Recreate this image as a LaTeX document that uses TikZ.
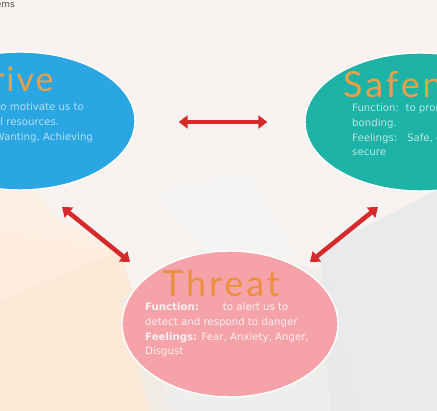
\documentclass[tikz,border=0pt]{standalone}
\usepackage{fontspec}
\setmainfont{DejaVu Sans}
\newfontfamily\ttlfont{Lato}
\usepackage{xcolor}
\usetikzlibrary{arrows.meta, shapes.geometric, positioning, calc}
\definecolor{drivec}{HTML}{2AA6E2}
\definecolor{safec}{HTML}{1DB3A6}
\definecolor{threatc}{HTML}{F5A3A8}
\definecolor{ttlc}{HTML}{E9A048}
\definecolor{arrc}{HTML}{D62A2A}
\definecolor{bgc}{HTML}{F8F3F1}
\tikzset{
  blob/.style={ellipse, draw=white, line width=1.4pt, inner sep=0pt,
               minimum width=230pt, minimum height=138pt},
  ttl/.style={font=\ttlfont\fontsize{34}{34}\selectfont\addfontfeature{LetterSpace=6},
              text=ttlc, inner sep=0pt},
  body/.style={font=\fontsize{10.2}{14.6}\selectfont, align=left, inner sep=0pt},
  arc/.style={{Triangle[width=13pt,length=9pt]}-{Triangle[width=13pt,length=9pt]},
              line width=4.5pt, arrc}
}
\begin{document}
\begin{tikzpicture}[x=1pt, y=-1pt]
    \clip (0,0) rectangle (437,411);
    % background
    \fill[bgc] (0,0) rectangle (437,411);
    \fill[orange!22, opacity=0.6] (0,230) -- (120,250) -- (170,411) -- (0,411) -- cycle;
    \fill[orange!12, opacity=0.7] (0,150) -- (60,220) -- (120,250) -- (0,300) -- cycle;
    \fill[gray!15, opacity=0.7] (120,300) -- (200,250) -- (330,270) -- (360,411) -- (150,411) -- cycle;
    \fill[cyan!12!gray!22, opacity=0.7] (320,250) -- (437,190) -- (437,411) -- (330,411) -- cycle;
    \fill[gray!8, opacity=0.6] (150,190) -- (250,170) -- (300,260) -- (200,250) -- cycle;
    \node[font=\fontsize{9}{9}\selectfont, text=black!70, anchor=east, inner sep=0pt] (hd) at (15,5) {Systems};

    \node[blob, fill=drivec] (drive) at (20,121) {};
    \node[blob, fill=safec] (safe) at (420,122) {};
    \node[blob, fill=threatc, minimum width=216pt, minimum height=146pt] (threat) at (230,324) {};

    \node[ttl, anchor=base] (drivet) at (9,92) {Drive};
    \node[body, text=drivec!35!white, anchor=north west] (driveb) at (-55,103)
      {Function: to motivate us to\\seek useful resources.\\Feelings: Wanting, Achieving};

    \node[ttl, font=\ttlfont\fontsize{36}{36}\selectfont\addfontfeature{LetterSpace=8},
          anchor=base west] (safet) at (343,98) {Safeness};
    \node[body, text=safec!30!white, anchor=north west] (safeb) at (352,104)
      {Function:\ \ to promote\\bonding.\\Feelings:\ \ \ Safe, content,\\secure};

    \node[ttl, font=\ttlfont\fontsize{36}{36}\selectfont\addfontfeature{LetterSpace=8},
          text=ttlc!90!red, anchor=base] (threatt) at (221,297) {Threat};
    \node[body, text=threatc!15!white, anchor=north west] (threatb) at (145,303)
      {\textbf{Function:}\hspace{24pt}to alert us to\\detect and respond to danger\\\textbf{Feelings:} Fear, Anxiety, Anger,\\Disgust};

    \draw[arc] (drive.east) ++(43,1) coordinate (ds) -- ($(safe.west)+(-37,0)$) coordinate (sd);
    \coordinate (dt) at (62,207);
    \coordinate (td) at (130,262);
    \coordinate (st) at (378,207);
    \coordinate (ts) at (310,262);
    \draw[arc] (dt) -- (td);
    \draw[arc] (st) -- (ts);
  \end{tikzpicture}
\end{document}
